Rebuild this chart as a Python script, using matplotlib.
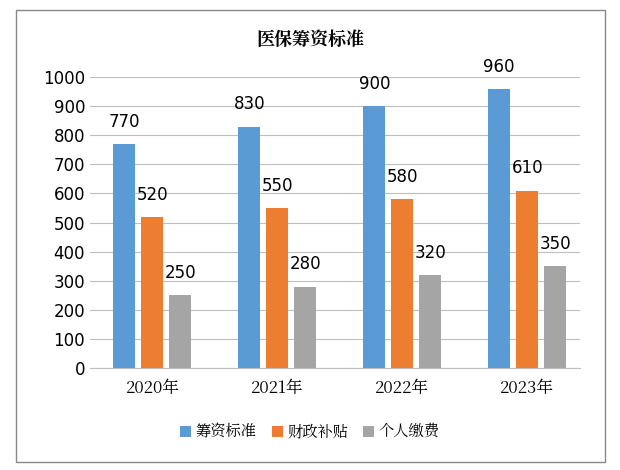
import numpy as np
import matplotlib.pyplot as plt
from matplotlib import font_manager
from matplotlib.patches import Rectangle

# find a CJK font file directly
cjk_path = None
for f in font_manager.findSystemFonts():
    if "NotoSansCJK" in f.replace(" ", "") or "CJK" in f:
        cjk_path = f
        if "SC" in f or "Regular" in f:
            break
if cjk_path:
    font_manager.fontManager.addfont(cjk_path)
    cjk_name = font_manager.FontProperties(fname=cjk_path).get_name()
else:
    cjk_name = "Noto Sans CJK SC"
plt.rcParams["font.family"] = ["DejaVu Sans", cjk_name]

years = ["2020年", "2021年", "2022年", "2023年"]
series_names = ["筹资标准", "财政补贴", "个人缴费"]
standard = [770, 830, 900, 960]
subsidy = [520, 550, 580, 610]
personal = [250, 280, 320, 350]
colors = ["#5B9BD5", "#ED7D31", "#A5A5A5"]

fig = plt.figure(figsize=(6.2, 4.7), dpi=100)
fig.patches.append(Rectangle((0.025, 0.018), 0.95, 0.96, transform=fig.transFigure,
                             fill=False, edgecolor="#888888", lw=1))
ax = fig.add_axes([0.145, 0.217, 0.79, 0.619])

x = np.arange(len(years))
w = 0.176
offs = [-0.224, 0, 0.224]
for vals, off, c, name in zip([standard, subsidy, personal], offs, colors, series_names):
    bars = ax.bar(x + off, vals, w, color=c, label=name, zorder=3)
    for b, v in zip(bars, vals):
        ax.text(b.get_x() + b.get_width() / 2, v + 45, str(v), ha="center", va="bottom",
                fontsize=12, zorder=4)

ax.set_xlim(-0.5, 3.42)
ax.set_ylim(0, 1000)
ax.set_yticks(range(0, 1001, 100))
ax.set_xticks(x)
ax.set_xticklabels(years, fontsize=12, fontfamily=cjk_name)
ax.tick_params(axis="y", labelsize=12, length=0)
ax.tick_params(axis="x", length=0, pad=8)
ax.yaxis.grid(True, color="#BFBFBF", lw=0.8, zorder=0)
for s in ["top", "right", "left"]:
    ax.spines[s].set_visible(False)
ax.spines["bottom"].set_color("#BFBFBF")

fig.text(0.5, 0.915, "医保筹资标准", ha="center", va="center", fontsize=13,
         fontweight="bold", fontfamily=cjk_name)
fig.legend(loc="center", bbox_to_anchor=(0.5, 0.08), ncol=3, frameon=False,
           prop={"family": cjk_name, "size": 11}, handlelength=0.7,
           handleheight=0.7, columnspacing=1.0, handletextpad=0.3)

fig.savefig("out.png", dpi=100)
